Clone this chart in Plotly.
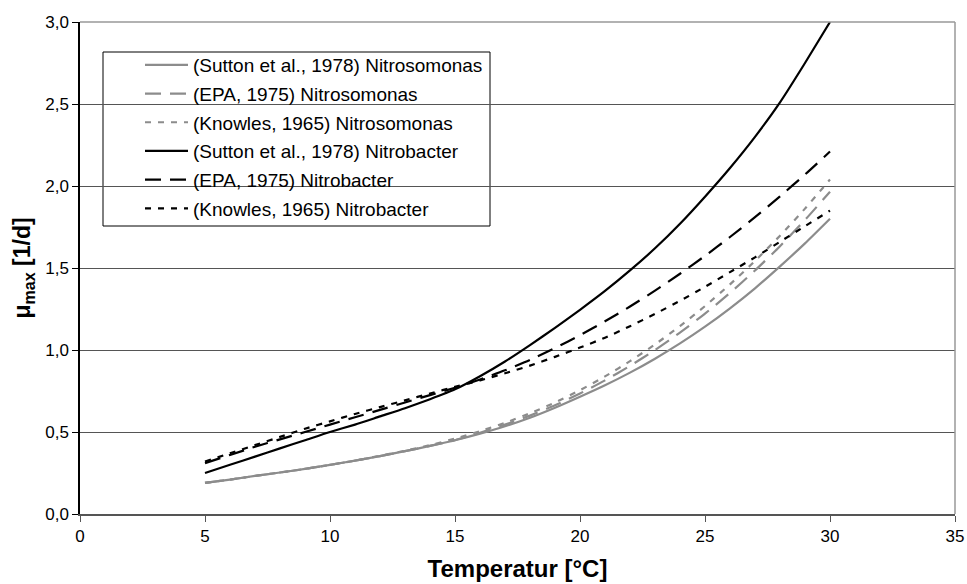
import plotly.graph_objects as go

# Temperature [°C]
temperature = [5, 6, 7, 8, 9, 10, 11, 12, 13, 14, 15, 16, 17, 18, 19, 20,
               21, 22, 23, 24, 25, 26, 27, 28, 29, 30]

# mu_max [1/d]
sutton_nitrosomonas = [0.19, 0.21, 0.232, 0.253, 0.275, 0.30, 0.325, 0.353, 0.383, 0.415,
                       0.45, 0.49, 0.535, 0.587, 0.648, 0.715, 0.785, 0.862, 0.947, 1.04,
                       1.142, 1.254, 1.376, 1.51, 1.65, 1.80]
epa_nitrosomonas = [0.19, 0.21, 0.232, 0.253, 0.275, 0.30, 0.325, 0.353, 0.383, 0.415,
                    0.45, 0.495, 0.545, 0.60, 0.663, 0.735, 0.815, 0.903, 1.0, 1.106,
                    1.222, 1.348, 1.485, 1.633, 1.793, 1.965]
knowles_nitrosomonas = [0.19, 0.21, 0.232, 0.253, 0.275, 0.30, 0.325, 0.355, 0.386, 0.42,
                        0.46, 0.505, 0.556, 0.614, 0.68, 0.755, 0.839, 0.932, 1.034, 1.146,
                        1.268, 1.40, 1.543, 1.697, 1.862, 2.04]
sutton_nitrobacter = [0.25, 0.30, 0.35, 0.40, 0.45, 0.50, 0.545, 0.595, 0.645, 0.70,
                      0.76, 0.84, 0.93, 1.03, 1.135, 1.245, 1.36, 1.485, 1.62, 1.77,
                      1.935, 2.11, 2.30, 2.51, 2.75, 3.0]
epa_nitrobacter = [0.31, 0.36, 0.41, 0.455, 0.50, 0.545, 0.59, 0.635, 0.68, 0.725,
                   0.77, 0.82, 0.876, 0.94, 1.012, 1.09, 1.175, 1.265, 1.362, 1.465,
                   1.574, 1.689, 1.81, 1.937, 2.07, 2.21]
knowles_nitrobacter = [0.32, 0.37, 0.42, 0.47, 0.52, 0.565, 0.61, 0.652, 0.693, 0.735,
                       0.775, 0.815, 0.858, 0.905, 0.958, 1.015, 1.075, 1.145, 1.22, 1.30,
                       1.385, 1.475, 1.565, 1.66, 1.755, 1.85]

series_names = ["(Sutton et al., 1978) Nitrosomonas",
                "(EPA, 1975) Nitrosomonas",
                "(Knowles, 1965) Nitrosomonas",
                "(Sutton et al., 1978) Nitrobacter",
                "(EPA, 1975) Nitrobacter",
                "(Knowles, 1965) Nitrobacter"]
series_values = [sutton_nitrosomonas, epa_nitrosomonas, knowles_nitrosomonas,
                 sutton_nitrobacter, epa_nitrobacter, knowles_nitrobacter]

y_ticks = [0, 0.5, 1.0, 1.5, 2.0, 2.5, 3.0]
x_ticks = [0, 5, 10, 15, 20, 25, 30, 35]

GRAY = "#8c8c8c"
BLACK = "#000000"
styles = [
    (GRAY, "solid"),
    (GRAY, "16px,9px"),
    (GRAY, "6px,7px"),
    (BLACK, "solid"),
    (BLACK, "16px,9px"),
    (BLACK, "6px,7px"),
]

FONT = "Arial, 'Liberation Sans', sans-serif"

# plot area in pixels (for converting legend frame position to paper coords)
W, H = 967, 584
ML, MR, MT, MB = 80, 12, 22, 70
PW, PH = W - ML - MR, H - MT - MB


def px_x(p):
    return (p - ML) / PW


def px_y(p):
    return (H - MB - p) / PH


fig = go.Figure()
for i, (name, vals) in enumerate(zip(series_names, series_values)):
    color, dash = styles[i]
    fig.add_trace(go.Scatter(
        x=temperature, y=vals, name=name, mode="lines",
        line=dict(color=color, width=2.2, dash=dash, shape="spline", smoothing=0.6),
        legendgroup=f"g{i}",
    ))

fig.update_layout(
    width=W, height=H,
    margin=dict(l=ML, r=MR, t=MT, b=MB),
    paper_bgcolor="white", plot_bgcolor="white",
    separators=", ",
    font=dict(family=FONT, size=17, color="#000"),
    showlegend=True,
    legend=dict(
        x=px_x(140), y=px_y(46), xanchor="left", yanchor="top",
        bgcolor="rgba(0,0,0,0)", borderwidth=0,
        font=dict(family=FONT, size=19, color="#000"),
        tracegroupgap=1, traceorder="grouped", itemwidth=43,
    ),
    xaxis=dict(
        range=[0, 35], tickvals=x_ticks, ticks="outside", ticklen=6,
        tickcolor="#555", showgrid=False, zeroline=False,
        showline=True, linecolor="#555", linewidth=1.5,
        tickfont=dict(size=17), automargin=False,
        title=dict(text="Temperatur [°C]", font=dict(size=24, weight="bold"), standoff=15),
    ),
    yaxis=dict(
        range=[0, 3], tickvals=y_ticks, tickformat=".1f", ticks="outside", ticklen=6,
        tickcolor="#000", showgrid=True, gridcolor="#555", gridwidth=1, zeroline=False,
        showline=True, linecolor="#000", linewidth=1.5,
        tickfont=dict(size=17), automargin=False,
        title=dict(text="μ<sub>max</sub> [1/d]", font=dict(size=23, weight="bold"), standoff=8),
    ),
    shapes=[
        dict(type="line", xref="paper", yref="paper", x0=0, x1=1, y0=1, y1=1,
             line=dict(color="#999", width=1.5)),
        dict(type="line", xref="paper", yref="paper", x0=1, x1=1, y0=0, y1=1,
             line=dict(color="#999", width=1.5)),
        dict(type="rect", xref="paper", yref="paper", layer="between",
             x0=px_x(103), x1=px_x(490), y0=px_y(226), y1=px_y(52),
             fillcolor="white", line=dict(color="#000", width=1)),
    ],
)

fig.write_html("out.html")
